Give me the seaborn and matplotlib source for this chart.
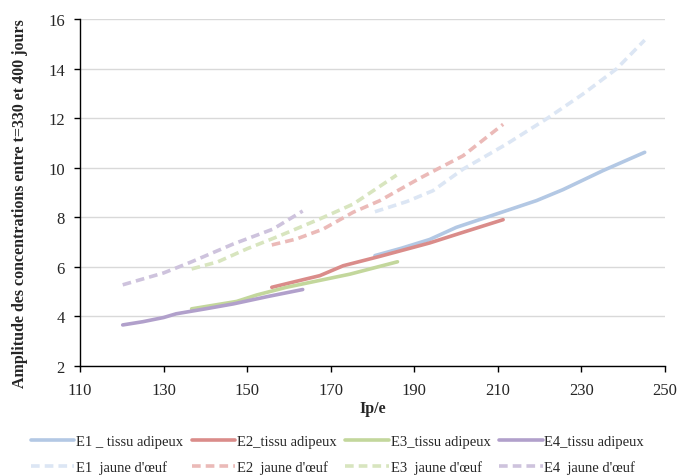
import numpy as np
import pandas as pd
import matplotlib
matplotlib.use("Agg")
import matplotlib.pyplot as plt
import seaborn as sns

# values
e1_tissu_x = [180.6, 187, 193.7, 200.1, 209.7, 219.3, 225.6, 235.2, 245.2]
e1_tissu_y = [6.45, 6.75, 7.1, 7.59, 8.13, 8.67, 9.11, 9.88, 10.62]
e2_tissu_x = [155.9, 161.5, 167.4, 173.0, 181.8, 193.7, 201.7, 211.3]
e2_tissu_y = [5.17, 5.4, 5.64, 6.04, 6.42, 6.96, 7.39, 7.9]
e3_tissu_x = [136.7, 147.5, 152.3, 159.4, 174.6, 186.0]
e3_tissu_y = [4.3, 4.6, 4.86, 5.17, 5.7, 6.2]
e4_tissu_x = [120.2, 125, 130, 133, 140, 146.7, 155, 163.3]
e4_tissu_y = [3.65, 3.78, 3.95, 4.1, 4.3, 4.5, 4.8, 5.08]

e1_jaune_x = [180.6, 188.2, 194.5, 201.7, 212.1, 221.6, 230.4, 238.4, 245.2]
e1_jaune_y = [8.22, 8.63, 9.07, 9.94, 10.95, 11.96, 12.97, 13.98, 15.15]
e2_jaune_x = [155.9, 161.8, 168.2, 175.4, 181.8, 191.3, 201.7, 211.3]
e2_jaune_y = [6.88, 7.12, 7.52, 8.2, 8.67, 9.57, 10.48, 11.75]
e3_jaune_x = [136.7, 143, 149.9, 157.8, 167.4, 175.4, 185.8]
e3_jaune_y = [5.91, 6.2, 6.72, 7.25, 7.93, 8.53, 9.7]
e4_jaune_x = [120.2, 130.0, 136.7, 146.7, 156.2, 163.3]
e4_jaune_y = [5.27, 5.75, 6.2, 6.92, 7.52, 8.25]

labels_tissu = ["E1 _ tissu adipeux", "E2_tissu adipeux", "E3_tissu adipeux", "E4_tissu adipeux"]
labels_jaune = ["E1  jaune d'œuf", "E2  jaune d'œuf", "E3  jaune d'œuf", "E4  jaune d'œuf"]

colors_tissu = ["#B3C8E4", "#DA8C8A", "#C3D79C", "#B1A0CB"]
colors_jaune = ["#DCE6F4", "#EBBAB8", "#D8E5BF", "#CEC3DD"]

tissu = [(e1_tissu_x, e1_tissu_y), (e2_tissu_x, e2_tissu_y), (e3_tissu_x, e3_tissu_y), (e4_tissu_x, e4_tissu_y)]
jaune = [(e1_jaune_x, e1_jaune_y), (e2_jaune_x, e2_jaune_y), (e3_jaune_x, e3_jaune_y), (e4_jaune_x, e4_jaune_y)]

sns.set_style("white")
plt.rcParams['font.family'] = ['Liberation Serif', 'DejaVu Serif']

fig = plt.figure(figsize=(6.79, 4.77), dpi=100)
ax = fig.add_axes([0.118, 0.231, 0.861, 0.727])

# draw in legend order (column-wise fill: solid then dashed for each E)
for i in range(4):
    x, y = tissu[i]
    sns.lineplot(x=x, y=y, ax=ax, color=colors_tissu[i], linewidth=2.6,
                 label=labels_tissu[i], sort=False, solid_capstyle='round')
    x, y = jaune[i]
    sns.lineplot(x=x, y=y, ax=ax, color=colors_jaune[i], linewidth=2.6,
                 label=labels_jaune[i], sort=False, dashes=False)
    ax.lines[-1].set_linestyle((0, (2.4, 1.4)))

ax.set_xlim(110, 250)
ax.set_ylim(2, 16)
ax.set_xticks(np.arange(110, 251, 20))
ax.set_yticks(np.arange(2, 17, 2))
ax.yaxis.grid(True, color="#D9D9D9", linewidth=1)
ax.set_axisbelow(True)
for s in ["top", "right"]:
    ax.spines[s].set_visible(False)
for s in ["left", "bottom"]:
    ax.spines[s].set_color("black")
    ax.spines[s].set_linewidth(1)
ax.tick_params(axis="both", which="major", labelsize=12, length=4, width=1,
               direction="out", color="black", bottom=True, left=True)
ax.tick_params(axis="x", pad=8)
ax.tick_params(axis="y", pad=7)
ax.set_xlabel("Ip/e", fontsize=11.5, fontweight="bold", labelpad=1)
ax.set_ylabel("Amplitude des concentrations entre t=330 et 400 jours", fontsize=11.5,
              fontweight="bold")
ax.yaxis.set_label_coords(-0.09, 0.472)

ax.legend(ncol=4, loc="upper center", bbox_to_anchor=(0.44, -0.16), frameon=False,
          fontsize=10.5, handlelength=3, columnspacing=0.6, handletextpad=0.1,
          labelspacing=0.85)

plt.savefig("out.png", dpi=100)
